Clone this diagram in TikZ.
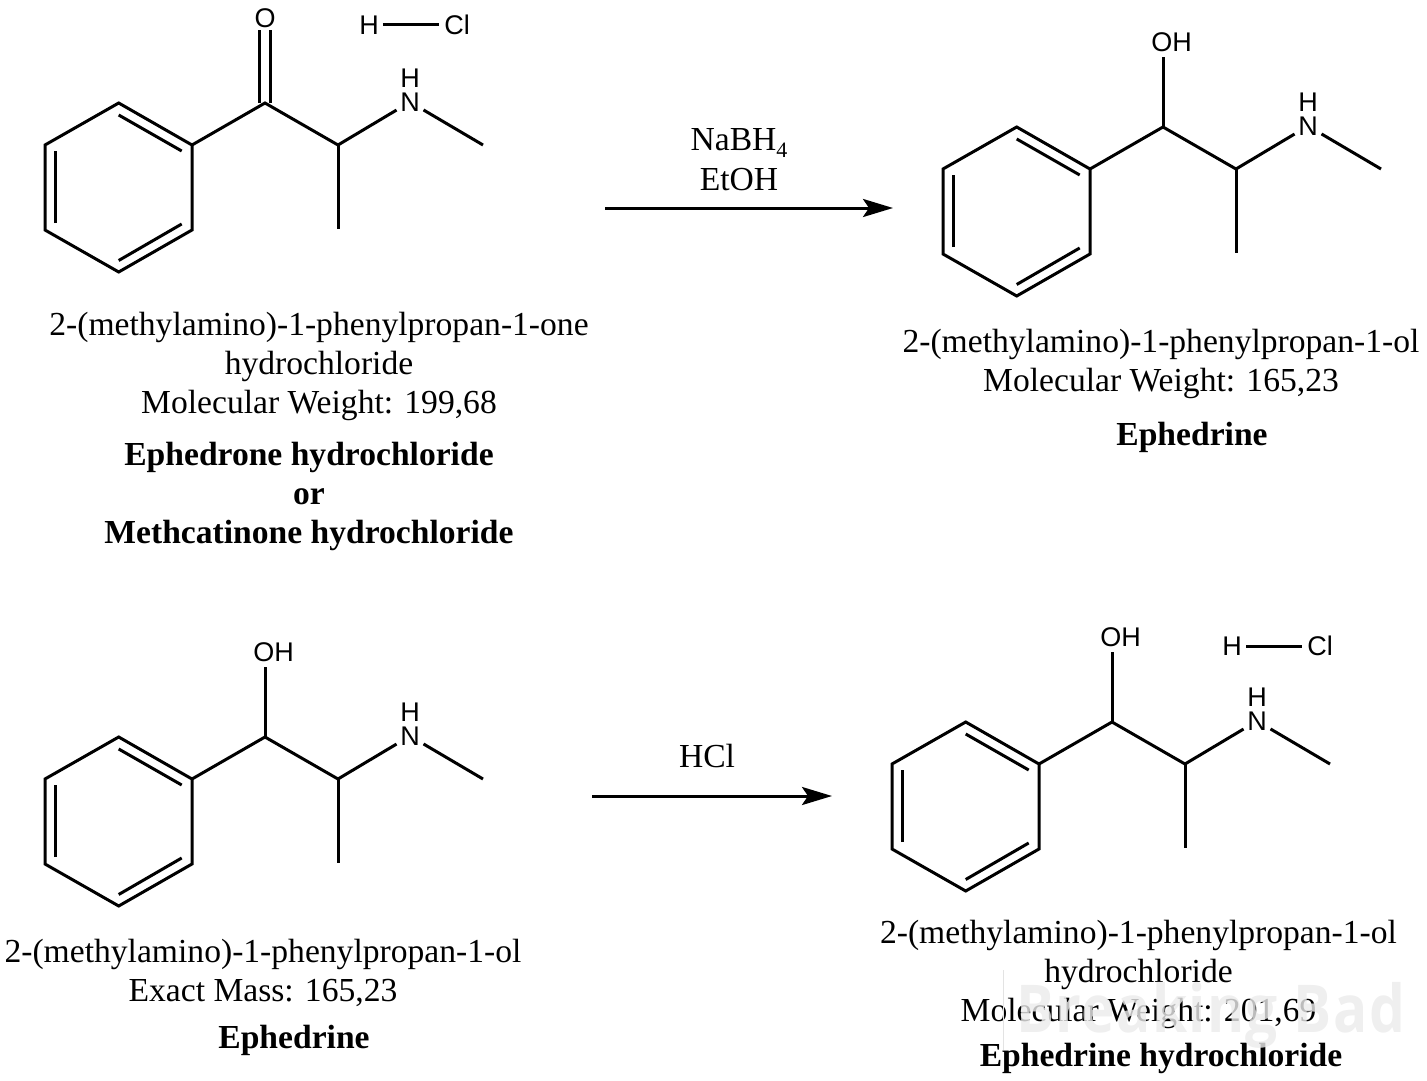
\documentclass[tikz,border=0pt]{standalone}
\usepackage{fontspec}
\setmainfont{Liberation Serif}
\newfontfamily\atomfont{Liberation Sans}
\newfontfamily\markfont[FakeStretch=0.86,LetterSpace=2,BoldFont={Open Sans Bold}]{Open Sans}
\usetikzlibrary{arrows.meta}
\tikzset{
  bond/.style={line width=3pt},
  rxn/.style={line width=3pt,-{Stealth[length=30pt,width=18pt,inset=6pt]}},
  atom/.style={font=\atomfont\fontsize{27}{27}\selectfont,inner xsep=0pt,inner ysep=5pt,text height=19.5pt,text depth=0pt},
  ring atom/.style={atom,circle,inner sep=0pt,minimum size=31pt},
  name text/.style={font=\fontsize{33.6}{39}\selectfont,align=center,inner sep=0pt},
  bold text/.style={name text,font=\fontsize{33.6}{39}\selectfont\bfseries},
  reagent/.style={name text}
}
% phenyl ring and side chain, #1 is the name prefix, #2 and #3 the shift
\newcommand{\sidechain}[3]{
  \begin{scope}[shift={(#2,#3)}]
    \coordinate (#1a) at (118.7,103);
    \coordinate (#1b) at (192,145);
    \coordinate (#1c) at (192,230);
    \coordinate (#1d) at (118.7,272);
    \coordinate (#1e) at (45,230);
    \coordinate (#1f) at (45,145);
    \coordinate (#1ab) at (118.7,115);
    \coordinate (#1ba) at (181.7,151);
    \coordinate (#1bc) at (181.7,224);
    \coordinate (#1cb) at (118.7,260.5);
    \coordinate (#1eb) at (55,223);
    \coordinate (#1fb) at (55,151);
    \coordinate (#1co) at (265,103);
    \coordinate (#1ch) at (338,145);
    \coordinate (#1me) at (338,229);
    \coordinate (#1end) at (483,145);
    \node[ring atom] (#1n) at (410,102) {N};
    \node[atom,inner ysep=0pt] (#1h) at (410,78) {H};
    \draw[bond] (#1a) -- (#1b) -- (#1c) -- (#1d) -- (#1e) -- (#1f) -- cycle;
    \draw[bond] (#1ab) -- (#1ba);
    \draw[bond] (#1bc) -- (#1cb);
    \draw[bond] (#1eb) -- (#1fb);
    \draw[bond] (#1b) -- (#1co) -- (#1ch) -- (#1n);
    \draw[bond] (#1ch) -- (#1me);
    \draw[bond] (#1n) -- (#1end);
  \end{scope}
}
% hydroxyl group on the side chain carbon
\newcommand{\hydroxyl}[1]{
  \node[atom,anchor=center] (#1oh) at ([xshift=8.5pt,yshift=85pt]#1co) {OH};
  \draw[bond] (#1co) -- (#1co |- #1oh.south);
}
\begin{document}
\begin{tikzpicture}[x=1pt,y=-1pt]
  \useasboundingbox (0,0) rectangle (1427,1081);
  % top left molecule
  \sidechain{p}{0}{0}
  \node[atom,inner ysep=2.5pt] (po) at (265,18) {O};
  \draw[bond] ([xshift=-5.3pt]pco) -- ([xshift=-5.3pt]pco |- po.south);
  \draw[bond] ([xshift=5.3pt]pco) -- ([xshift=5.3pt]pco |- po.south);
  \node[atom,circle,inner sep=0pt,minimum size=26pt] (phh) at (369,25) {H};
  \node[atom,circle,inner sep=0pt,minimum size=36pt] (phcl) at (457,25) {Cl};
  \draw[bond] (phh) -- (phcl);
  \node[name text] (pname) at (319,366.5) {2-(methylamino)-1-phenylpropan-1-one\\hydrochloride\\Molecular Weight: 199,68};
  \node[bold text] (ptitle) at (309,496) {Ephedrone hydrochloride\\or\\Methcatinone hydrochloride};
  % top right molecule
  \sidechain{q}{898}{24}
  \hydroxyl{q}
  \node[name text] (qname) at (1161,364) {2-(methylamino)-1-phenylpropan-1-ol\\Molecular Weight: 165,23};
  \node[bold text] (qtitle) at (1192,437.5) {Ephedrine};
  % bottom left molecule
  \sidechain{r}{0}{634}
  \hydroxyl{r}
  \node[name text] (rname) at (263,973) {2-(methylamino)-1-phenylpropan-1-ol\\Exact Mass: 165,23};
  \node[bold text] (rtitle) at (294,1040.5) {Ephedrine};
  % bottom right molecule
  \sidechain{s}{847}{619}
  \hydroxyl{s}
  \node[atom,circle,inner sep=0pt,minimum size=26pt] (shh) at (1232,646) {H};
  \node[atom,circle,inner sep=0pt,minimum size=36pt] (shcl) at (1320,646) {Cl};
  \draw[bond] (shh) -- (shcl);
  \node[name text] (sname) at (1138.5,974) {2-(methylamino)-1-phenylpropan-1-ol\\hydrochloride\\Molecular Weight: 201,69};
  \node[bold text] (stitle) at (1161,1058) {Ephedrine hydrochloride};
  % reaction arrows
  \coordinate (aone) at (605,208);
  \coordinate (bone) at (893,208);
  \draw[rxn] (aone) -- (bone);
  \node[reagent] (nabh) at (739,143) {NaBH\raisebox{-.22em}{\fontsize{22}{22}\selectfont 4}};
  \node[reagent] (etoh) at (739,180) {EtOH};
  \coordinate (atwo) at (592,796);
  \coordinate (btwo) at (832,796);
  \draw[rxn] (atwo) -- (btwo);
  \node[reagent] (hcl) at (707,756) {HCl};
  % watermark
  \coordinate (marka) at (1003,970);
  \coordinate (markb) at (1003,1050);
  \draw[gray!22,line width=1pt] (marka) -- (markb);
  \node[font=\markfont\bfseries\fontsize{66}{66}\selectfont,text=gray!16,opacity=.8,anchor=base west,inner sep=0pt] (mark) at (1016,1032) {Breaking Bad};
\end{tikzpicture}
\end{document}
